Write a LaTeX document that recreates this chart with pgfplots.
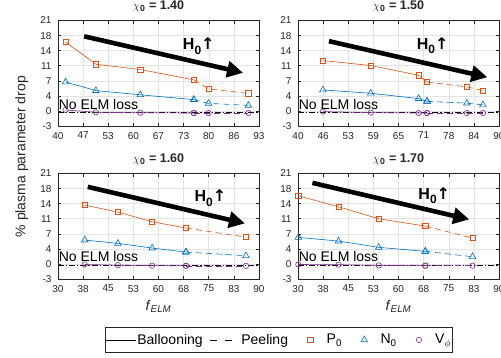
\documentclass[border=0pt]{standalone}
\usepackage{pgfplots}
\pgfplotsset{compat=1.18}
\usepackage{fontspec}
\setmainfont{Liberation Sans}
\newfontfamily\djv{DejaVu Sans}
\usetikzlibrary{arrows.meta}
\definecolor{cP}{RGB}{217,83,25}
\definecolor{cN}{RGB}{0,114,189}
\definecolor{cV}{RGB}{126,47,142}
\definecolor{axc}{RGB}{38,38,38}
\newcommand{\Hlab}{\textbf{H}\raisebox{-4.5pt}{\fontsize{12}{12}\selectfont\bfseries 0}{\djv\bfseries ↑}}
\pgfplotsset{
  panel/.style={
    width=201pt, height=105.5pt, scale only axis,
    anchor=south west,
    ymin=-3, ymax=21,
    ytick={-3,0.428571,3.857143,7.285714,10.714286,14.142857,17.571429,21},
    yticklabels={-3,0,4,7,11,14,18,21},
    tick align=inside, major tick length=3pt,
    xmajorgrids, ymajorgrids,
    grid style={gray!22, line width=0.5pt},
    axis line style={axc, line width=0.5pt},
    tick style={axc, line width=0.5pt},
    ticklabel style={font=\fontsize{10}{12}\selectfont, text=axc},
    yticklabel style={xshift=-3pt},
    xticklabel style={yshift=-2.5pt},
    title style={at={(0.5,1)}, anchor=base, yshift=5pt, font=\fontsize{12.5}{14}\selectfont\bfseries, text=axc},
    xlabel style={at={(0.5,0)}, anchor=base, yshift=-31pt, font=\fontsize{14}{16}\selectfont, text=axc},
  },
  bal/.style={line width=0.6pt, solid},
  pel/.style={line width=0.6pt, dash pattern=on 6pt off 4pt},
  mP/.style={cP, mark=square, mark size=2.6pt, mark options={solid, line width=0.6pt}},
  mN/.style={cN, mark=triangle, mark size=3.8pt, mark options={solid, line width=0.6pt}},
  mV/.style={cV, mark=o, mark size=2.7pt, mark options={solid, line width=0.6pt}},
  zl/.style={black, line width=0.7pt, dash pattern=on 6pt off 2pt on 1.2pt off 2pt},
}
\begin{document}
\begin{tikzpicture}
\path[use as bounding box] (0pt,0pt) rectangle (501pt,357pt);
\node[rotate=90, font=\fontsize{14}{16}\selectfont, text=axc] at (21.7pt,200.3pt) {\% plasma parameter drop};

% Panel 1
\begin{axis}[panel, at={(58pt,231pt)},
  xmin=40, xmax=93,
  xtick={40,46.625,53.25,59.875,66.5,73.125,79.75,86.375,93},
  xticklabels={40,47,53,60,67,73,80,86,93},
  title={$\chi$\textsubscript{0} = 1.40}]
\addplot[zl] coordinates {(40,0) (93,0)};
\addplot[bal,mV] coordinates {(42.0,0.65) (50.0,0.12) (61.7,0.02) (75.8,-0.05)};
\addplot[pel,mV] coordinates {(75.8,-0.05) (79.7,-0.05) (90.2,-0.05)};
\addplot[bal,mN] coordinates {(42.0,7.0) (50.0,5.05) (61.7,4.1) (75.8,3.0)};
\addplot[pel,mN] coordinates {(75.8,3.0) (79.7,2.15) (90.2,1.7)};
\addplot[bal,mP] coordinates {(42.0,16.1) (50.0,11.05) (61.7,9.84) (75.8,7.5)};
\addplot[pel,mP] coordinates {(75.8,7.5) (79.7,5.45) (90.2,4.42)};
\draw[black, line width=4.6pt, -{Triangle[length=16pt,width=16pt]}] (axis cs:46.9,17.4) -- (axis cs:88.8,9.1);
\node[anchor=base west, inner sep=0pt, font=\fontsize{16}{18}\selectfont] at (axis cs:72.9,14.4) {\Hlab};
\node[anchor=base west, inner sep=0pt, font=\fontsize{14}{16}\selectfont] at (axis cs:40.15,0.85) {No ELM loss};
\end{axis}

% Panel 2
\begin{axis}[panel, at={(298pt,231pt)},
  xmin=40, xmax=90,
  xtick={40,46.25,52.5,58.75,65,71.25,77.5,83.75,90},
  xticklabels={40,46,53,59,65,71,78,84,90},
  title={$\chi$\textsubscript{0} = 1.50}]
\addplot[zl] coordinates {(40,0) (90,0)};
\addplot[bal,mV] coordinates {(46.2,0.27) (58.1,0.05) (70.0,-0.05) (72.1,-0.05)};
\addplot[pel,mV] coordinates {(72.1,-0.05) (82.0,-0.05) (86.0,-0.05)};
\addplot[bal,mN] coordinates {(46.2,5.2) (58.1,4.45) (70.0,3.23) (72.1,2.6)};
\addplot[pel,mN] coordinates {(72.1,2.6) (82.0,2.2) (86.0,1.8)};
\addplot[bal,mP] coordinates {(46.2,11.89) (58.1,10.75) (70.0,8.55) (72.1,7.0)};
\addplot[pel,mP] coordinates {(72.1,7.0) (82.0,5.9) (86.0,5.05)};
\draw[black, line width=4.6pt, -{Triangle[length=16pt,width=16pt]}] (axis cs:47.7,16.3) -- (axis cs:87.1,8.1);
\node[anchor=base west, inner sep=0pt, font=\fontsize{16}{18}\selectfont] at (axis cs:69.5,14.5) {\Hlab};
\node[anchor=base west, inner sep=0pt, font=\fontsize{14}{16}\selectfont] at (axis cs:40.15,0.85) {No ELM loss};
\end{axis}

% Panel 3
\begin{axis}[panel, at={(58pt,78pt)},
  xmin=30, xmax=90,
  xtick={30,37.5,45,52.5,60,67.5,75,82.5,90},
  xticklabels={30,38,45,53,60,68,75,83,90},
  title={$\chi$\textsubscript{0} = 1.60},
  xlabel={\textit{f}\textsubscript{\textit{ELM}}},
  legend columns=-1,
  legend image code/.code={\path (0pt,0pt) (30pt,0pt); \draw[mark repeat=2,mark phase=2,#1] plot coordinates {(0pt,0pt) (15pt,0pt) (30pt,0pt)};},
  legend style={at={(1.099,-0.577)}, anchor=center, draw=axc, line width=0.5pt,
    font=\fontsize{14}{16}\selectfont, inner xsep=0.5pt, inner ysep=4.5pt,
    nodes={inner xsep=1pt},
    /tikz/every even column/.append style={column sep=6pt}},
  ]
\addlegendimage{black, line width=0.6pt}
\addlegendentry{Ballooning}
\addlegendimage{black, line width=0.6pt, dash pattern=on 7pt off 8pt}
\addlegendentry{Peeling}
\addlegendimage{only marks, cP, mark=square, mark size=2.6pt, line width=0.6pt}
\addlegendentry{P\textsubscript{0}}
\addlegendimage{only marks, cN, mark=triangle, mark size=3.8pt, line width=0.6pt}
\addlegendentry{N\textsubscript{0}}
\addlegendimage{only marks, cV, mark=o, mark size=2.7pt, line width=0.6pt}
\addlegendentry{V\textsubscript{$\phi$}}
\addplot[zl, forget plot] coordinates {(30,0) (90,0)};
\addplot[bal,mV, forget plot] coordinates {(38.0,0.3) (47.9,0.15) (58.1,0.05) (68.2,0.0)};
\addplot[pel,mV, forget plot] coordinates {(68.2,0.0) (86.1,0.0)};
\addplot[bal,mN, forget plot] coordinates {(38.0,5.86) (47.9,5.1) (58.1,4.04) (68.2,3.13)};
\addplot[pel,mN, forget plot] coordinates {(68.2,3.13) (86.1,2.3)};
\addplot[bal,mP, forget plot] coordinates {(38.0,13.81) (47.9,12.22) (58.1,10.02) (68.2,8.59)};
\addplot[pel,mP, forget plot] coordinates {(68.2,8.59) (86.1,6.54)};
\draw[black, line width=4.6pt, -{Triangle[length=16pt,width=16pt]}] (axis cs:38.9,17.96) -- (axis cs:85.8,9.65);
\node[anchor=base west, inner sep=0pt, font=\fontsize{16}{18}\selectfont] at (axis cs:70.7,14.55) {\Hlab};
\node[anchor=base west, inner sep=0pt, font=\fontsize{14}{16}\selectfont] at (axis cs:30.2,0.9) {No ELM loss};
\end{axis}

% Panel 4
\begin{axis}[panel, at={(298pt,78pt)},
  xmin=30, xmax=90,
  xtick={30,37.5,45,52.5,60,67.5,75,82.5,90},
  xticklabels={30,38,45,53,60,68,75,83,90},
  title={$\chi$\textsubscript{0} = 1.70},
  xlabel={\textit{f}\textsubscript{\textit{ELM}}},
  clip=false]
\addplot[zl] coordinates {(30,0) (90,0)};
\addplot[bal,mV] coordinates {(30.1,0.3) (42.1,0.25) (54.1,0.1) (68.0,0.03)};
\addplot[pel,mV] coordinates {(68.0,0.03) (82.1,0.03)};
\addplot[bal,mN] coordinates {(30.1,6.47) (42.1,5.63) (54.1,4.2) (68.0,3.29)};
\addplot[pel,mN] coordinates {(68.0,3.29) (82.1,2.07)};
\addplot[bal,mP] coordinates {(30.1,15.93) (42.1,13.43) (54.1,10.7) (68.0,9.04)};
\addplot[pel,mP] coordinates {(68.0,9.04) (82.1,6.31)};
\draw[black, line width=4.6pt, -{Triangle[length=16pt,width=16pt]}] (axis cs:34.3,18.87) -- (axis cs:81.1,10.55);
\node[anchor=base west, inner sep=0pt, font=\fontsize{16}{18}\selectfont] at (axis cs:65.9,15.1) {\Hlab};
\node[anchor=base west, inner sep=0pt, font=\fontsize{14}{16}\selectfont] at (axis cs:30.2,0.9) {No ELM loss};
\end{axis}
\end{tikzpicture}
\end{document}
